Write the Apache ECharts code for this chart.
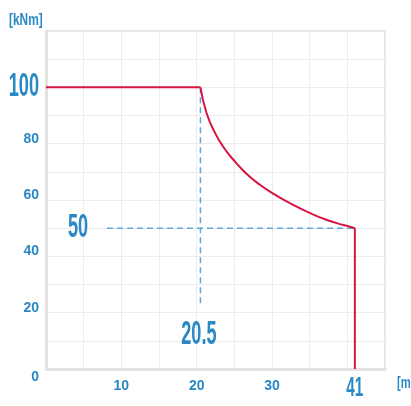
<!DOCTYPE html>
<html><head><meta charset="utf-8">
<script src="https://cdn.jsdelivr.net/npm/echarts@6/dist/echarts.min.js"></script>
<style>html,body{margin:0;padding:0;background:#fff}#c{width:411px;height:406px}</style>
</head><body><div id="c"></div>
<script>
// ---- data ----
var yTickLabels = [0, 20, 40, 60, 80];
var xTickLabels = [10, 20, 30];
var flatX = [0, 20.5];
var flatY = [100, 100];
var curveX = [20.5, 21.3, 22.4, 23.5, 24.9, 26.5, 28.4, 30.2, 32.8, 35, 37.3, 39.5, 41];
var curveY = [100, 91, 84, 79, 74.2, 69.6, 65.4, 62.2, 58.3, 55.4, 52.9, 51.1, 50];
var dropX = [41, 41];
var dropY = [50, 0];
var dashHX = [8.1, 41];
var dashHY = [50, 50];
var dashVX = [20.5, 20.5];
var dashVY = [100, 22.7];
var annotText = ['100', '50', '20.5', '41'];
var annotX = [0, 4.25, 20.3, 41];
var annotY = [100, 50, 12.2, 0];
var yUnit = '[kNm]';
var xUnit = '[m]';

var FONT = "'Liberation Sans',Arial,sans-serif";
var BLUE = '#2b88c6';

function zip(a, b) { return a.map(function (v, i) { return [v, b[i]]; }); }

// per-annotation text style (layout only)
var annotStyle = {
  '100': { size: 33, align: 'right', dx: -7, dy: 0 },
  '50': { size: 33, align: 'center', dx: 0, dy: 0 },
  '20.5': { size: 33, align: 'center', dx: 0, dy: 0 },
  '41': { size: 28, align: 'center', dx: 0, dy: 19 }
};

var chart = echarts.init(document.getElementById('c'), null, { renderer: 'canvas' });
chart.setOption({
  animation: false,
  backgroundColor: '#fff',
  graphic: [
    { type: 'text', left: 9, top: 12, scaleX: 0.7, style: { text: yUnit, font: 'bold 17px ' + FONT, fill: BLUE } },
    { type: 'text', left: 397, top: 376, scaleX: 0.7, style: { text: xUnit, font: 'bold 16px ' + FONT, fill: BLUE } }
  ],
  grid: {
    left: 46, top: 31, right: 26, bottom: 37, containLabel: false, outerBoundsMode: 'none',
    show: true, borderColor: '#e4e4e4', borderWidth: 2, backgroundColor: 'transparent'
  },
  xAxis: {
    type: 'value', min: 0, max: 45, interval: 5,
    axisLine: { show: true, lineStyle: { color: '#e2e2e2', width: 3 } },
    axisTick: { show: false },
    splitLine: { show: true, lineStyle: { color: '#ececec', width: 1 } },
    axisLabel: {
      margin: 10,
      fontFamily: FONT, fontWeight: 'bold', fontSize: 14, color: BLUE,
      formatter: function (v) { return xTickLabels.indexOf(v) >= 0 ? String(v) : ''; }
    }
  },
  yAxis: {
    type: 'value', min: 0, max: 120, interval: 10,
    axisLine: { show: true, lineStyle: { color: '#e2e2e2', width: 3 } },
    axisTick: { show: false },
    splitLine: { show: true, lineStyle: { color: '#ececec', width: 1 } },
    axisLabel: {
      margin: 7,
      fontFamily: FONT, fontWeight: 'bold', color: BLUE,
      formatter: function (v) {
        if (yTickLabels.indexOf(v) < 0) return '';
        if (v === 0) return '{zero|' + v + '}';
        return '{s|' + v + '}';
      },
      rich: {
        s: { fontFamily: FONT, fontWeight: 'bold', fontSize: 14, color: BLUE, padding: [0, 0, 10, 0] },
        zero: { fontFamily: FONT, fontWeight: 'bold', fontSize: 14, color: BLUE, padding: [16, 0, 0, 0] }
      }
    }
  },
  series: [
    {
      type: 'line', data: zip(dashHX, dashHY), symbol: 'none', silent: true,
      lineStyle: { color: '#5aa8dc', width: 1.5, type: [6, 4] }, z: 2
    },
    {
      type: 'line', data: zip(dashVX, dashVY), symbol: 'none', silent: true,
      lineStyle: { color: '#5aa8dc', width: 1.5, type: [6, 4] }, z: 2
    },
    {
      type: 'line', data: zip(flatX, flatY), symbol: 'none', silent: true,
      lineStyle: { color: '#d8153f', width: 2 }, z: 3
    },
    {
      type: 'line', data: zip(curveX, curveY), symbol: 'none', smooth: 0.5, silent: true,
      lineStyle: { color: '#d8153f', width: 2 }, z: 3
    },
    {
      type: 'line', data: zip(dropX, dropY), symbol: 'none', silent: true,
      lineStyle: { color: '#d8153f', width: 2 }, z: 3
    },
    {
      type: 'custom', clip: false, silent: true, z: 4,
      data: annotText.map(function (t, i) { return [annotX[i], annotY[i]]; }),
      renderItem: function (params, api) {
        var p = api.coord([api.value(0), api.value(1)]);
        var t = annotText[params.dataIndex];
        var s = annotStyle[t];
        return {
          type: 'text', x: p[0] + s.dx, y: p[1] + s.dy, scaleX: 0.55,
          style: { text: t, font: 'bold ' + s.size + 'px ' + FONT, fill: BLUE, align: s.align, verticalAlign: 'middle' }
        };
      }
    }
  ]
});
</script></body></html>
